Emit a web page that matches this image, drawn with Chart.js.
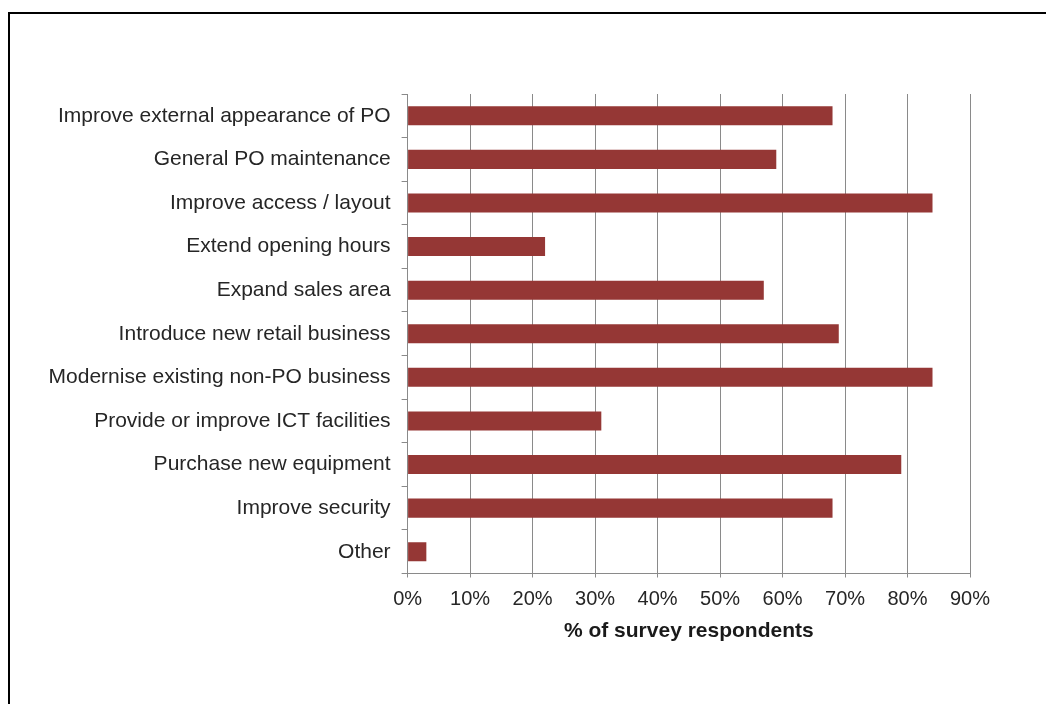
<!DOCTYPE html>
<html>
<head>
<meta charset="utf-8">
<script src="https://cdn.jsdelivr.net/npm/chart.js@4.4.1/dist/chart.umd.min.js"></script>
<style>
  html, body { margin: 0; padding: 0; background: #ffffff; overflow: hidden; }
  #wrap { position: relative; width: 1046px; height: 704px; }
  #frame {
    position: absolute; left: 8px; top: 12px; width: 1100px; height: 800px;
    border-left: 2px solid #000; border-top: 2px solid #000; box-sizing: border-box;
  }
  canvas { position: absolute; left: 0; top: 0; }
</style>
</head>
<body>
<div id="wrap">
  <div id="frame"></div>
  <canvas id="c" width="1046" height="704"></canvas>
</div>
<script>
// Improvements planned by post office branches
const categories = [
  "Improve external appearance of PO",
  "General PO maintenance",
  "Improve access / layout",
  "Extend opening hours",
  "Expand sales area",
  "Introduce new retail business",
  "Modernise existing non-PO business",
  "Provide or improve ICT facilities",
  "Purchase new equipment",
  "Improve security",
  "Other"
];
const respondentShare = [68, 59, 84, 22, 57, 69, 84, 31, 79, 68, 3];
const xTickMax = 90;
const xTickStep = 10;
const xAxisTitle = "% of survey respondents";

const gridGray = "#8a8a8a";

new Chart(document.getElementById("c"), {
  type: "bar",
  data: {
    labels: categories,
    datasets: [{
      data: respondentShare,
      backgroundColor: "#953735",
      borderWidth: 0,
      barPercentage: 0.437,
      categoryPercentage: 1.0
    }]
  },
  options: {
    indexAxis: "y",
    responsive: false,
    animation: false,
    events: [],
    layout: { padding: { top: 94, right: 76, left: 0, bottom: 0 } },
    plugins: { legend: { display: false }, tooltip: { enabled: false } },
    scales: {
      y: {
        grid: {
          offset: true,
          drawOnChartArea: false,
          drawTicks: true,
          tickLength: 6,
          color: gridGray,
          lineWidth: 1
        },
        border: { color: gridGray, width: 1 },
        ticks: {
          autoSkip: false,
          padding: 11,
          color: "#262626",
          font: { family: "'Liberation Sans', Arial, sans-serif", size: 21 }
        },
        afterFit: (s) => { s.width = 407.6; }
      },
      x: {
        min: 0,
        max: xTickMax,
        grid: {
          drawOnChartArea: true,
          drawTicks: true,
          tickLength: 4,
          color: gridGray,
          lineWidth: 1
        },
        border: { color: gridGray, width: 1 },
        ticks: {
          stepSize: xTickStep,
          padding: 10,
          color: "#262626",
          font: { family: "'Liberation Sans', Arial, sans-serif", size: 20 },
          callback: (v) => v + "%"
        },
        title: {
          display: true,
          text: xAxisTitle,
          color: "#1a1a1a",
          font: { family: "'Liberation Sans Narrow', 'Liberation Sans', Arial, sans-serif", size: 21, weight: "bold" },
          padding: { top: 0, bottom: 60 }
        },
        afterFit: (s) => { s.height = 130.5; }
      }
    }
  }
});
</script>
</body>
</html>
